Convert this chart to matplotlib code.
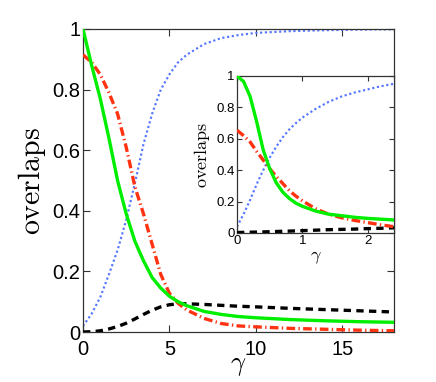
import matplotlib
matplotlib.use("Agg")
import matplotlib.pyplot as plt

# ---- main panel data ----
gamma_main = [0, 0.5, 1.0, 1.5, 2.0, 2.5, 3.0, 3.5, 4.0, 4.5, 5.0, 5.5, 6.0,
              7.0, 8.0, 9.0, 10, 12, 14, 16, 18]
green_main = [1.00, 0.88, 0.77, 0.64, 0.50, 0.39, 0.30, 0.235, 0.18, 0.145, 0.118,
              0.10, 0.087, 0.068, 0.058, 0.051, 0.047, 0.041, 0.037, 0.034, 0.032]
red_main = [0.915, 0.89, 0.85, 0.79, 0.72, 0.61, 0.48, 0.39, 0.29, 0.19, 0.128,
            0.095, 0.073, 0.045, 0.028, 0.020, 0.017, 0.012, 0.009, 0.006, 0.004]
blue_main = [0.02, 0.06, 0.115, 0.19, 0.27, 0.37, 0.49, 0.62, 0.72, 0.80, 0.85,
             0.89, 0.915, 0.95, 0.97, 0.98, 0.987, 0.993, 0.996, 0.998, 0.999]
black_main = [0.0, 0.001, 0.004, 0.01, 0.018, 0.029, 0.043, 0.058, 0.072, 0.083,
              0.090, 0.093, 0.093, 0.091, 0.088, 0.085, 0.083, 0.078, 0.074, 0.070, 0.066]

# ---- inset data ----
gamma_inset = [0, 0.1, 0.2, 0.3, 0.4, 0.5, 0.6, 0.7, 0.8, 0.9, 1.0,
               1.2, 1.4, 1.6, 1.8, 2.0, 2.2, 2.4]
green_inset = [1.0, 0.965, 0.87, 0.71, 0.53, 0.41, 0.32, 0.26, 0.22, 0.19, 0.17,
               0.14, 0.12, 0.11, 0.10, 0.093, 0.088, 0.083]
red_inset = [0.655, 0.62, 0.58, 0.52, 0.465, 0.41, 0.36, 0.315, 0.27, 0.235, 0.205,
             0.155, 0.12, 0.097, 0.08, 0.066, 0.052, 0.04]
blue_inset = [0.04, 0.12, 0.21, 0.31, 0.40, 0.48, 0.55, 0.61, 0.66, 0.70, 0.735,
              0.79, 0.835, 0.87, 0.895, 0.915, 0.935, 0.95]
black_inset = [0.003, 0.004, 0.005, 0.006, 0.007, 0.008, 0.0095, 0.011, 0.012, 0.0135,
               0.015, 0.018, 0.021, 0.023, 0.025, 0.028, 0.030, 0.033]

main_xticks = [0, 5, 10, 15]
main_yticks = [0, 0.2, 0.4, 0.6, 0.8, 1]
main_ytick_labels = ["0", "0.2", "0.4", "0.6", "0.8", "1"]
inset_xticks = [0, 1, 2]

plt.rcParams['mathtext.fontset'] = 'cm'
TICKFONT = ['Liberation Sans', 'DejaVu Sans']

GREEN = '#00ee00'
RED = '#ff3311'
BLUE = '#5577ff'
BLACK = '#000000'
SPINE = '#333333'

fig = plt.figure(figsize=(4.36, 3.82), dpi=100)
ax = fig.add_axes([83/436, 1 - 332/382, 311/436, 303/382])
axi = fig.add_axes([237/436, 1 - 233/382, 157/436, 157/382])


def draw(a, x, g, r, b, k, lw):
    a.plot(x, b, color=BLUE, lw=lw * 0.65, ls=(0, (1, 1.2)), zorder=2)
    a.plot(x, k, color=BLACK, lw=lw, ls=(0, (2.2, 1.6)), zorder=3)
    a.plot(x, r, color=RED, lw=lw, ls=(0, (2.6, 1.0, 0.4, 1.0)), zorder=3)
    a.plot(x, g, color=GREEN, lw=lw, ls='-', zorder=4)


draw(ax, gamma_main, green_main, red_main, blue_main, black_main, 2.4)
draw(axi, gamma_inset, green_inset, red_inset, blue_inset, black_inset, 2.4)

for a in (ax, axi):
    for s in a.spines.values():
        s.set_color(SPINE)
        s.set_linewidth(0.9)
    a.tick_params(direction='in', top=True, right=True, color=SPINE, width=0.8)

ax.set_xlim(0, 18)
ax.set_ylim(0, 1)
ax.set_xticks(main_xticks)
ax.set_yticks(main_yticks)
ax.set_yticklabels(main_ytick_labels)
ax.tick_params(length=5, pad=2, labelsize=14.5)
for lab in ax.get_xticklabels() + ax.get_yticklabels():
    lab.set_family(TICKFONT)
ax.tick_params(axis='x', pad=6)
ax.set_xlabel(r'$\gamma$', fontsize=19, labelpad=-5)
ax.set_ylabel(r'$\mathrm{overlaps}$', fontsize=21.5, labelpad=3)

axi.set_xlim(0, 2.4)
axi.set_ylim(0, 1)
axi.set_xticks(inset_xticks)
axi.set_yticks(main_yticks)
axi.set_yticklabels(main_ytick_labels)
axi.tick_params(length=3.5, pad=1.5, labelsize=9.5)
for lab in axi.get_xticklabels() + axi.get_yticklabels():
    lab.set_family(TICKFONT)
axi.set_xlabel(r'$\gamma$', fontsize=13, labelpad=1)
axi.set_ylabel(r'$\mathrm{overlaps}$', fontsize=13, labelpad=3)

fig.savefig('out.png', dpi=100)
